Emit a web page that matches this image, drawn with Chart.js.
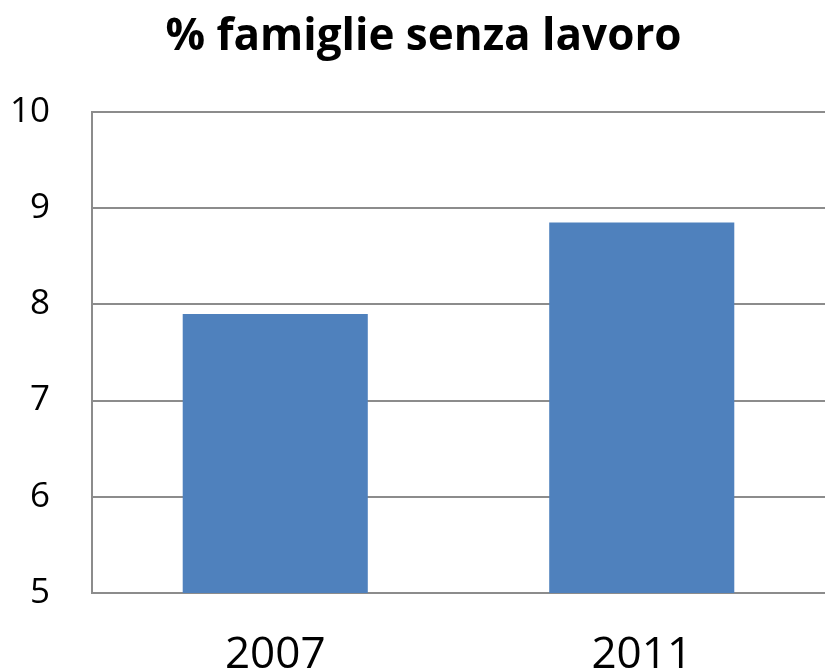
<!DOCTYPE html>
<html>
<head>
<title>% famiglie senza lavoro</title>
<script src="https://cdn.jsdelivr.net/npm/chart.js"></script>
<style>
  html, body { margin: 0; padding: 0; background: #fff; }
  #wrap { width: 825px; height: 672px; }
</style>
</head>
<body>
<div id="wrap"><canvas id="barChart"></canvas></div>
<script>
const categories = ['2007', '2011'];
const values = [7.9, 8.85];
const yTicks = [5, 6, 7, 8, 9, 10];

const font = "'Open Sans', 'Noto Sans', sans-serif";

const bgPlugin = {
  id: 'bg',
  beforeDraw(c) {
    const g = c.ctx;
    g.save();
    g.fillStyle = '#fff';
    g.fillRect(0, 0, c.width, c.height);
    g.restore();
  }
};

new Chart(document.getElementById('barChart'), {
  type: 'bar',
  data: {
    labels: categories,
    datasets: [{ data: values, backgroundColor: '#4f81bd', categoryPercentage: 1, barPercentage: 0.505 }]
  },
  options: {
    responsive: true,
    maintainAspectRatio: false,
    animation: false,
    plugins: {
      legend: { display: false },
      tooltip: { enabled: false },
      title: {
        display: true,
        text: '\u2002% famiglie senza lavoro',
        color: '#000',
        font: { family: font, size: 44, weight: 'bold' },
        padding: { top: 11, bottom: 48 }
      }
    },
    scales: {
      x: {
        grid: { display: false },
        border: { color: '#8c8c8c', width: 2 },
        ticks: { color: '#000', font: { family: font, size: 44 }, padding: 28 },
        afterFit(s) { s.height = 79; }
      },
      y: {
        min: 5,
        max: 10,
        afterBuildTicks(s) { s.ticks = yTicks.map(v => ({ value: v })); },
        grid: { color: '#8c8c8c', lineWidth: 2, drawTicks: false },
        border: { color: '#8c8c8c', width: 2 },
        ticks: { color: '#000', font: { family: font, size: 35 }, padding: 42 },
        afterFit(s) { s.width = 92; }
      }
    }
  },
  plugins: [bgPlugin]
});
</script>
</body>
</html>
